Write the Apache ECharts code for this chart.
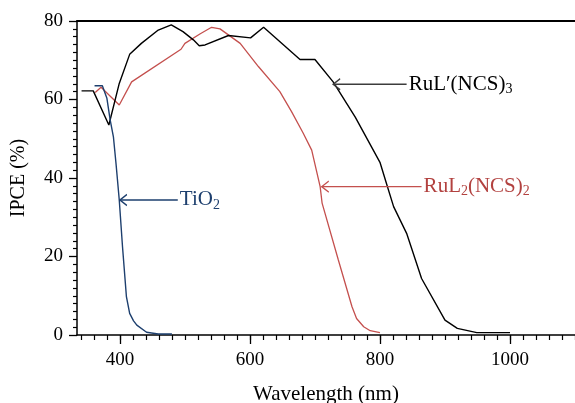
<!DOCTYPE html>
<html><head><meta charset="utf-8">
<script src="https://cdn.jsdelivr.net/npm/echarts@6/dist/echarts.min.js"></script>
<style>html,body{margin:0;padding:0;background:#fff}#c{width:575px;height:403px}</style>
</head><body><div id="c"></div>
<script>
// Data (wavelength nm, IPCE %)
const ruLprimeNCS3 = [[341,62.2],[359,62.2],[383,53.5],[399,64.1],[415,71.5],[433,74.3],[459,77.7],[479,79.0],[497,77.3],[513,75.2],[522,73.7],[531,73.9],[567,76.3],[601,75.7],[621,78.4],[677,70.2],[700,70.2],[728,64.5],[762,55.5],[800,44.0],[810,38.6],[821,32.7],[841,25.9],[864,14.4],[900,3.8],[919,1.7],[949,0.6],[1000,0.6]];
const ruL2NCS2 = [[362,61.8],[371,63.1],[399,58.6],[418,64.5],[494,72.8],[500,74.3],[523,76.7],[541,78.4],[554,78.0],[585,74.3],[613,68.4],[646,62.0],[664,56.9],[682,51.4],[695,47.1],[708,37.8],[711,33.6],[736,19.1],[757,7.2],[764,4.2],[775,2.1],[785,1.1],[800,0.6]];
const tio2 = [[361,63.5],[373,63.5],[380,60.3],[385,54.8],[390,50.5],[394,43.7],[399,34.4],[404,22.5],[410,9.8],[415,5.5],[421,3.6],[426,2.5],[441,0.7],[459,0.25],[480,0.25]];
// Axis ticks
const xMajorTicks = [400,600,800,1000];
const xMinorTicks = [340,360,380,400,420,440,460,480,500,520,540,560,580,600,620,640,660,680,700,720,740,760,780,800,820,840,860,880,900,920,940,960,980,1000,1020,1040,1060,1080,1100];
const yTicks = [0,20,40,60,80];
// Annotations: [arrowTipX, textStartX, y]
const annTiO2 = [400, 489, 34.4];
const annRuLp = [728, 841, 63.9];
const annRuL2 = [710.5, 864, 37.8];

const FONT = 'Liberation Serif';
const C_BLACK = '#000000', C_RED = '#c4504e', C_BLUE = '#1d3f6e';

function arrowSeries(ann, color, text, textColor) {
  return {
    type: 'line', xAxisIndex: 0, yAxisIndex: 0, silent: true, z: 5,
    lineStyle: {color: color, width: 1.4},
    data: [
      {value: [ann[0], ann[2]], symbol: 'path://M10,0L0,5L10,10', symbolSize: [7, 11], symbolOffset: [3.5, 0],
       itemStyle: {color: 'transparent', borderColor: color, borderWidth: 1.3}},
      {value: [ann[1], ann[2]], symbol: 'circle', symbolSize: 0.1, itemStyle: {color: 'transparent', borderWidth: 0},
       label: {show: true, position: 'right', distance: 2, formatter: text, color: textColor, fontFamily: FONT, fontSize: 21,
         rich: {s: {fontFamily: FONT, fontSize: 14, color: textColor, padding: [10, 0, 0, 0]}}}}
    ]
  };
}

const chart = echarts.init(document.getElementById('c'), null, {renderer: 'canvas'});
chart.setOption({
  animation: false,
  grid: {left: 77, right: 0, top: 21, bottom: 68, containLabel: false, outerBoundsMode: 'none'},
  xAxis: [
    {type: 'value', min: 334, max: 1100, position: 'bottom',
     name: 'Wavelength (nm)', nameLocation: 'middle', nameGap: 49,
     nameTextStyle: {fontFamily: FONT, fontSize: 21, color: '#000'},
     axisLine: {onZero: false, lineStyle: {color: '#000', width: 1.5}},
     axisTick: {customValues: xMajorTicks, length: 9, lineStyle: {color: '#000', width: 1.3}},
     axisLabel: {customValues: xMajorTicks, margin: 16, fontFamily: FONT, fontSize: 19, color: '#000',
       formatter: function (v) { return String(v); }},
     splitLine: {show: false}},
    {type: 'value', min: 334, max: 1100, position: 'bottom',
     axisLine: {show: false, onZero: false},
     axisTick: {customValues: xMinorTicks, length: 5, lineStyle: {color: '#000', width: 1.2}},
     axisLabel: {show: false}, splitLine: {show: false}},
    {type: 'value', min: 334, max: 1100, position: 'top',
     axisLine: {onZero: false, lineStyle: {color: '#000', width: 2}},
     axisTick: {show: false}, axisLabel: {show: false}, splitLine: {show: false}}
  ],
  yAxis: {type: 'value', min: 0, max: 80, interval: 20,
    name: 'IPCE (%)', nameLocation: 'middle', nameGap: 48,
    nameTextStyle: {fontFamily: FONT, fontSize: 20, color: '#000'},
    axisLine: {show: true, lineStyle: {color: '#000', width: 1.5}},
    axisTick: {length: 8, lineStyle: {color: '#000', width: 1.3}},
    minorTick: {show: true, splitNumber: 10, length: 4, lineStyle: {color: '#000', width: 1.2}},
    axisLabel: {margin: 14, fontFamily: FONT, fontSize: 19, color: '#000', customValues: yTicks},
    splitLine: {show: false}},
  series: [
    {type: 'line', data: ruLprimeNCS3, showSymbol: false, lineStyle: {color: C_BLACK, width: 1.4}, z: 3},
    {type: 'line', data: ruL2NCS2, showSymbol: false, lineStyle: {color: C_RED, width: 1.3}, z: 2},
    {type: 'line', data: tio2, showSymbol: false, lineStyle: {color: C_BLUE, width: 1.4}, z: 4},
    arrowSeries(annTiO2, C_BLUE, 'TiO{s|2}', C_BLUE),
    arrowSeries(annRuLp, '#3c3c3c', 'RuL\u2032(NCS){s|3}', '#000'),
    arrowSeries(annRuL2, C_RED, 'RuL{s|2}(NCS){s|2}', '#b2413f')
  ]
});
</script></body></html>
